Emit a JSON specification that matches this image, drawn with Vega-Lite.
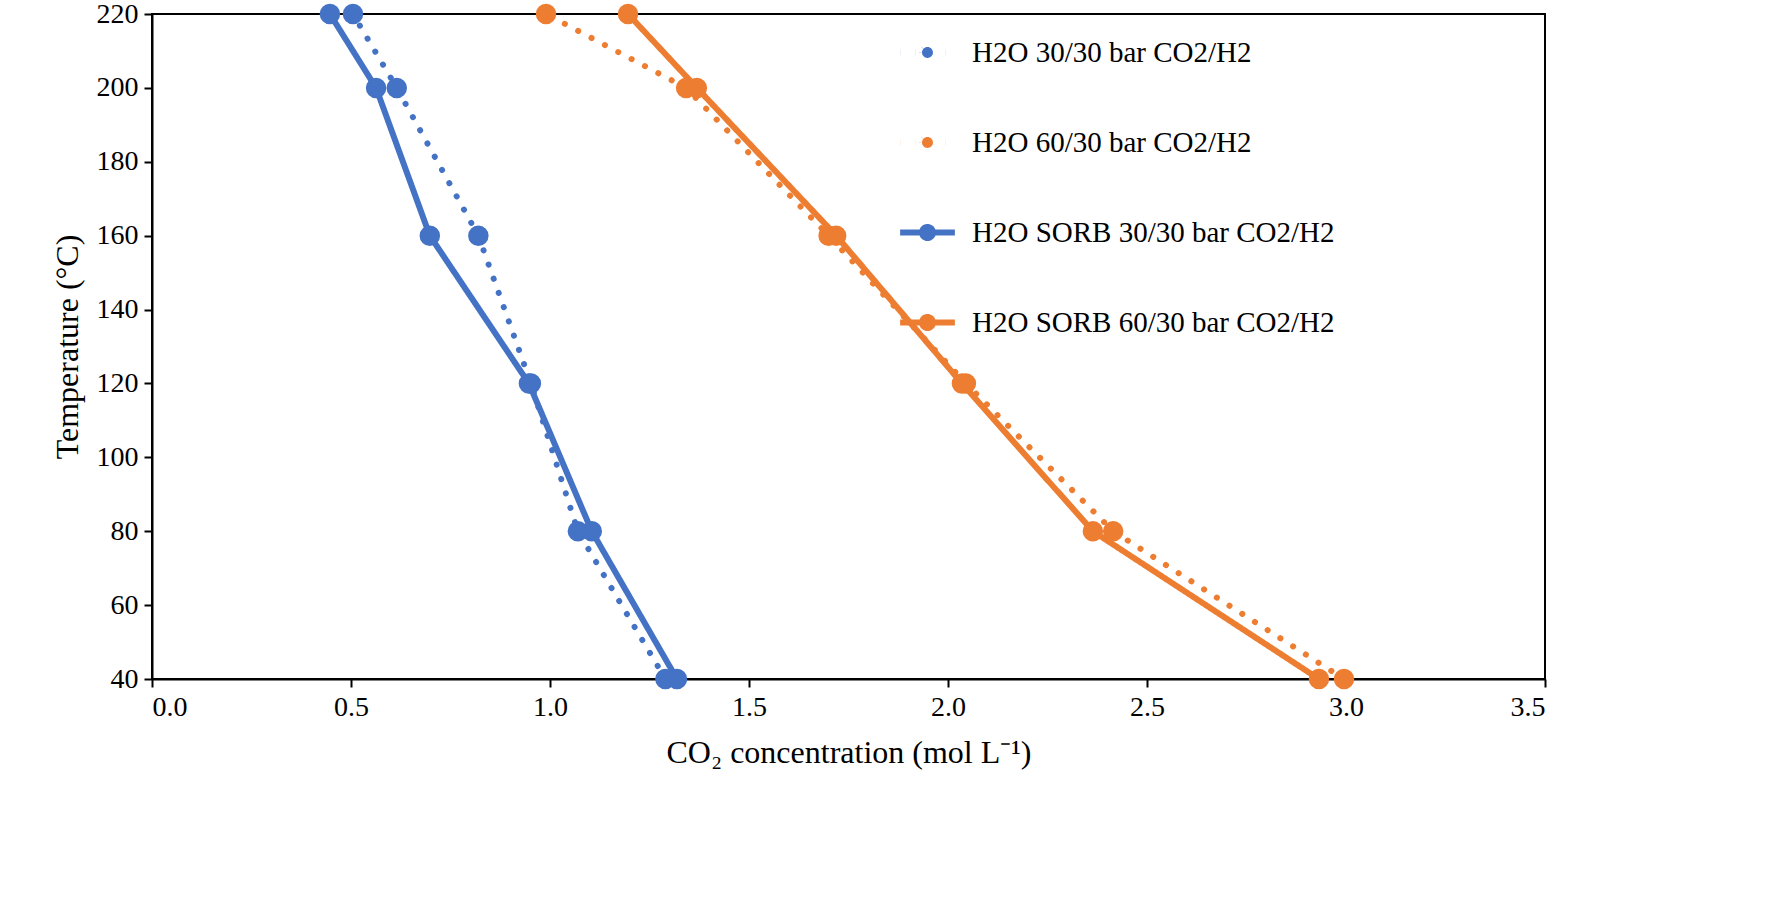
{
  "$schema": "https://vega.github.io/schema/vega-lite/v6.json",
  "autosize": "none",
  "width": 1393,
  "height": 665,
  "padding": {"left": 152, "top": 14, "right": 227, "bottom": 232},
  "background": "white",
  "data": {
    "values": [
      {"series": "H2O 30/30 bar CO2/H2", "conc": 0.505, "temp": 220},
      {"series": "H2O 30/30 bar CO2/H2", "conc": 0.615, "temp": 200},
      {"series": "H2O 30/30 bar CO2/H2", "conc": 0.82, "temp": 160},
      {"series": "H2O 30/30 bar CO2/H2", "conc": 0.952, "temp": 120},
      {"series": "H2O 30/30 bar CO2/H2", "conc": 1.07, "temp": 80},
      {"series": "H2O 30/30 bar CO2/H2", "conc": 1.29, "temp": 40},
      {"series": "H2O 60/30 bar CO2/H2", "conc": 0.99, "temp": 220},
      {"series": "H2O 60/30 bar CO2/H2", "conc": 1.342, "temp": 200},
      {"series": "H2O 60/30 bar CO2/H2", "conc": 1.70, "temp": 160},
      {"series": "H2O 60/30 bar CO2/H2", "conc": 2.045, "temp": 120},
      {"series": "H2O 60/30 bar CO2/H2", "conc": 2.415, "temp": 80},
      {"series": "H2O 60/30 bar CO2/H2", "conc": 2.995, "temp": 40},
      {"series": "H2O SORB 30/30 bar CO2/H2", "conc": 0.447, "temp": 220},
      {"series": "H2O SORB 30/30 bar CO2/H2", "conc": 0.563, "temp": 200},
      {"series": "H2O SORB 30/30 bar CO2/H2", "conc": 0.698, "temp": 160},
      {"series": "H2O SORB 30/30 bar CO2/H2", "conc": 0.947, "temp": 120},
      {"series": "H2O SORB 30/30 bar CO2/H2", "conc": 1.105, "temp": 80},
      {"series": "H2O SORB 30/30 bar CO2/H2", "conc": 1.319, "temp": 40},
      {"series": "H2O SORB 60/30 bar CO2/H2", "conc": 1.196, "temp": 220},
      {"series": "H2O SORB 60/30 bar CO2/H2", "conc": 1.369, "temp": 200},
      {"series": "H2O SORB 60/30 bar CO2/H2", "conc": 1.719, "temp": 160},
      {"series": "H2O SORB 60/30 bar CO2/H2", "conc": 2.035, "temp": 120},
      {"series": "H2O SORB 60/30 bar CO2/H2", "conc": 2.364, "temp": 80},
      {"series": "H2O SORB 60/30 bar CO2/H2", "conc": 2.932, "temp": 40}
    ]
  },
  "mark": {"type": "line", "strokeWidth": 6, "strokeCap": "round", "point": {"filled": true, "size": 420}},
  "encoding": {
    "x": {
      "field": "conc", "type": "quantitative",
      "scale": {"domain": [0, 3.5], "nice": false},
      "axis": {"values": [0, 0.5, 1, 1.5, 2, 2.5, 3, 3.5], "format": ".1f", "grid": false,
               "title": "CO₂ concentration (mol L⁻¹)", "titlePadding": 16}
    },
    "y": {
      "field": "temp", "type": "quantitative",
      "scale": {"domain": [40, 220], "nice": false, "zero": false},
      "axis": {"values": [40, 60, 80, 100, 120, 140, 160, 180, 200, 220], "grid": false,
               "title": "Temperature (°C)", "titlePadding": 12}
    },
    "order": {"field": "temp", "type": "quantitative"},
    "color": {
      "field": "series", "type": "nominal",
      "scale": {
        "domain": ["H2O 30/30 bar CO2/H2", "H2O 60/30 bar CO2/H2", "H2O SORB 30/30 bar CO2/H2", "H2O SORB 60/30 bar CO2/H2"],
        "range": ["#4472C4", "#ED7D31", "#4472C4", "#ED7D31"]
      },
      "legend": {
        "title": null, "orient": "none", "legendX": 745, "legendY": 8,
        "labelFontSize": 29, "labelFont": "Liberation Serif", "labelColor": "black",
        "symbolType": "M -1 0 L 1 0 M -0.2 0 A 0.2 0.2 0 1 0 0.2 0 A 0.2 0.2 0 1 0 -0.2 0",
        "symbolSize": 3000, "symbolStrokeWidth": 6, "rowPadding": 42, "labelOffset": 14, "labelLimit": 600,
        "encode": {"symbols": {"update": {"fill": {"scale": "color", "field": "value"}}}}
      }
    },
    "strokeDash": {
      "field": "series", "type": "nominal",
      "scale": {
        "domain": ["H2O 30/30 bar CO2/H2", "H2O 60/30 bar CO2/H2", "H2O SORB 30/30 bar CO2/H2", "H2O SORB 60/30 bar CO2/H2"],
        "range": [[0.1, 15], [0.1, 15], [1, 0], [1, 0]]
      },
      "legend": {"title": null}
    }
  },
  "config": {
    "font": "Liberation Serif",
    "view": {"stroke": "black", "strokeWidth": 2},
    "axis": {
      "labelFont": "Liberation Serif", "titleFont": "Liberation Serif",
      "labelFontSize": 28, "titleFontSize": 32, "titleFontWeight": "normal",
      "labelColor": "black", "titleColor": "black",
      "domainColor": "black", "domainWidth": 2, "tickColor": "black", "tickWidth": 2, "tickSize": 8,
      "labelPadding": 6
    }
  }
}
